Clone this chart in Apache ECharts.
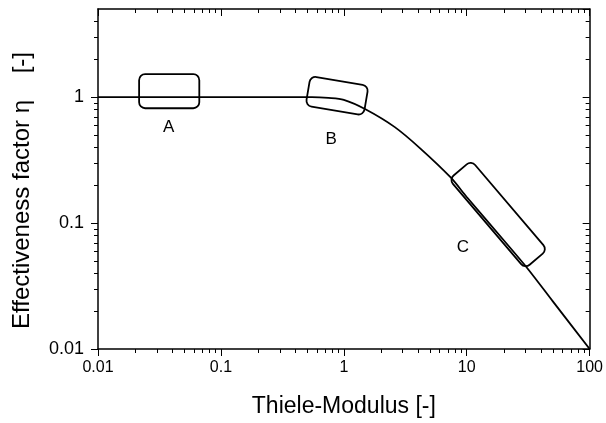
<!DOCTYPE html>
<html>
<head>
<meta charset="utf-8">
<script src="https://cdn.jsdelivr.net/npm/echarts@6/dist/echarts.min.js"></script>
<style>
html, body { margin: 0; padding: 0; background: #fff; }
#main { width: 606px; height: 423px; }
</style>
</head>
<body>
<div id="main"></div>
<script>
// ---- data ----
var thiele = [0.01, 0.1, 0.3, 0.55, 0.75, 1, 1.5, 2.6, 4.2, 7.4, 10, 20, 31, 50, 100];
var eta = [1, 1, 1, 1, 0.985, 0.95, 0.80, 0.577, 0.39, 0.23, 0.161, 0.073, 0.044, 0.024, 0.01];

// minor tick positions (log axes)
var xMinor = [0.02, 0.03, 0.04, 0.05, 0.06, 0.07, 0.08, 0.09,
              0.2, 0.3, 0.4, 0.5, 0.6, 0.7, 0.8, 0.9,
              2, 3, 4, 5, 6, 7, 8, 9,
              20, 30, 40, 50, 60, 70, 80, 90];
var yMinor = [0.02, 0.03, 0.04, 0.05, 0.06, 0.07, 0.08, 0.09,
              0.2, 0.3, 0.4, 0.5, 0.6, 0.7, 0.8, 0.9,
              2, 3, 4];

// boxes: corner p0, corner p1 (long side), corner p3 (short side), in data units
var boxNames = ["A", "B", "C"];
var boxCorners = [
    [0.0216, 1.52, 0.0667, 1.52, 0.0216, 0.815],
    [0.533, 1.47, 1.58, 1.23, 0.491, 0.854],
    [7.1, 0.225, 29.5, 0.0440, 11.0, 0.310]
];
var labelPos = [[0.0375, 0.577], [0.79, 0.46], [9.3, 0.064]];

var FONT = "Liberation Sans, Arial, sans-serif";

var myChart = echarts.init(document.getElementById("main"));

var curveData = thiele.map(function (x, i) { return [x, eta[i]]; });
var tickData = xMinor.map(function (v) { return [v, 1, 0]; })
    .concat(yMinor.map(function (v) { return [1, v, 1]; }));
var labelData = labelPos.map(function (p, i) { return [p[0], p[1], i]; });

function renderTick(params, api) {
    var cs = params.coordSys;
    var len = 4;
    var st = { stroke: "#000", lineWidth: 1 };
    if (api.value(2) === 0) {
        var px = Math.round(api.coord([api.value(0), 1])[0]) + 0.5;
        var yb = cs.y + cs.height;
        return {
            type: "group",
            children: [
                { type: "line", shape: { x1: px, y1: yb, x2: px, y2: yb + len }, style: st },
                { type: "line", shape: { x1: px, y1: cs.y, x2: px, y2: cs.y + len }, style: st }
            ]
        };
    }
    var py = Math.round(api.coord([1, api.value(1)])[1]) + 0.5;
    var xr = cs.x + cs.width;
    return {
        type: "group",
        children: [
            { type: "line", shape: { x1: cs.x, y1: py, x2: cs.x - len, y2: py }, style: st },
            { type: "line", shape: { x1: xr, y1: py, x2: xr - len, y2: py }, style: st }
        ]
    };
}

function renderBox(params, api) {
    var p0 = api.coord([api.value(0), api.value(1)]);
    var p1 = api.coord([api.value(2), api.value(3)]);
    var p3 = api.coord([api.value(4), api.value(5)]);
    var dx = p1[0] - p0[0], dy = p1[1] - p0[1];
    var w = Math.sqrt(dx * dx + dy * dy);
    var h = Math.sqrt(Math.pow(p3[0] - p0[0], 2) + Math.pow(p3[1] - p0[1], 2));
    var cx = (p1[0] + p3[0]) / 2, cy = (p1[1] + p3[1]) / 2;
    return {
        type: "rect",
        x: cx,
        y: cy,
        rotation: -Math.atan2(dy, dx),
        shape: { x: -w / 2, y: -h / 2, width: w, height: h, r: 6 },
        style: { fill: "none", stroke: "#000", lineWidth: 1.8 }
    };
}

function renderLabel(params, api) {
    var p = api.coord([api.value(0), api.value(1)]);
    return {
        type: "text",
        x: p[0],
        y: p[1],
        style: {
            text: boxNames[api.value(2)],
            fill: "#000",
            font: "17px " + FONT,
            align: "center",
            verticalAlign: "middle"
        }
    };
}

var option = {
    animation: false,
    textStyle: { fontFamily: FONT },
    grid: { left: 98, right: 13, top: 9, bottom: 71 },
    xAxis: [
        {
            type: "log",
            min: 0.01,
            max: 100,
            name: "Thiele-Modulus [-]",
            nameLocation: "middle",
            nameGap: 46,
            nameTextStyle: { fontSize: 23, color: "#000", fontFamily: FONT },
            axisLine: { lineStyle: { color: "#000", width: 1.5 } },
            axisTick: { inside: false, length: 7, lineStyle: { color: "#000", width: 1 } },
            axisLabel: { fontSize: 16, color: "#000", margin: 11, fontFamily: FONT },
            splitLine: { show: false }
        },
        {
            type: "log",
            position: "top",
            min: 0.01,
            max: 100,
            axisLine: { lineStyle: { color: "#000", width: 1.5 } },
            axisTick: { inside: true, length: 7, lineStyle: { color: "#000", width: 1 } },
            axisLabel: { show: false },
            splitLine: { show: false }
        }
    ],
    yAxis: [
        {
            type: "log",
            min: 0.01,
            max: 5,
            name: "Effectiveness factor \u03b7    [-]",
            nameLocation: "middle",
            nameGap: 64,
            nameTextStyle: { fontSize: 24, color: "#000", fontFamily: FONT, padding: [0, 23, 0, 0] },
            axisLine: { lineStyle: { color: "#000", width: 1.5 } },
            axisTick: { inside: false, length: 7, lineStyle: { color: "#000", width: 1 } },
            axisLabel: { fontSize: 18, color: "#000", margin: 14, showMaxLabel: false, fontFamily: FONT },
            splitLine: { show: false }
        },
        {
            type: "log",
            position: "right",
            min: 0.01,
            max: 5,
            axisLine: { lineStyle: { color: "#000", width: 1.5 } },
            axisTick: { inside: true, length: 7, lineStyle: { color: "#000", width: 1 } },
            axisLabel: { show: false },
            splitLine: { show: false }
        }
    ],
    series: [
        {
            name: "eta",
            type: "line",
            data: curveData,
            smooth: 0.3,
            showSymbol: false,
            lineStyle: { color: "#000", width: 1.8 },
            z: 3
        },
        {
            name: "boxes",
            type: "custom",
            data: boxCorners,
            encode: { x: [0, 2, 4], y: [1, 3, 5] },
            renderItem: renderBox,
            z: 4
        },
        {
            name: "labels",
            type: "custom",
            data: labelData,
            encode: { x: 0, y: 1 },
            renderItem: renderLabel,
            z: 5
        },
        {
            name: "minorTicks",
            type: "custom",
            data: tickData,
            encode: { x: 0, y: 1 },
            renderItem: renderTick,
            clip: false,
            silent: true,
            z: 6
        }
    ]
};

myChart.setOption(option);
window.addEventListener("resize", function () {
    myChart.resize();
});
</script>
</body>
</html>
